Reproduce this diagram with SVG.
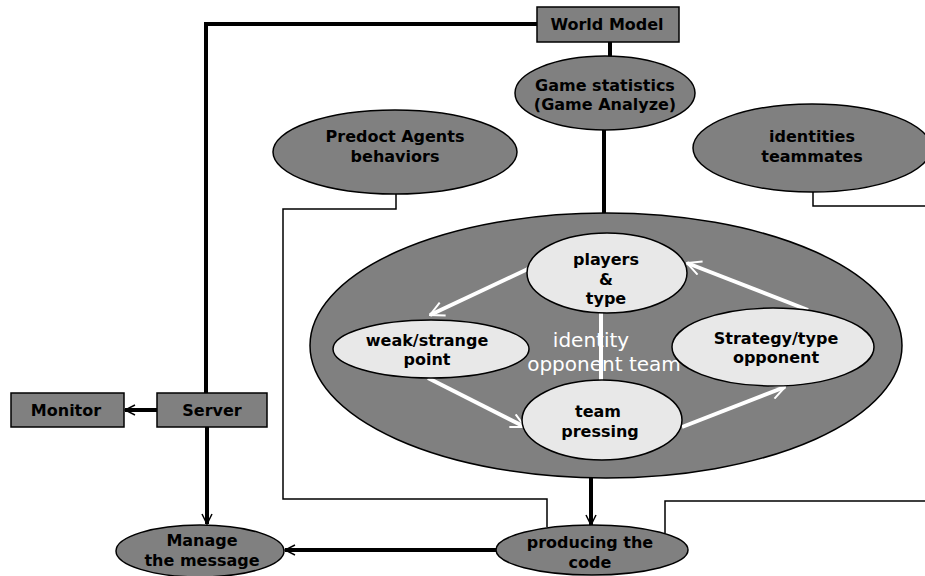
<svg xmlns="http://www.w3.org/2000/svg" width="925" height="576" viewBox="0 0 925 576">
<defs>
<style>
.dark{fill:#808080;stroke:#000;stroke-width:1.5}
.light{fill:#e8e8e8;stroke:#000;stroke-width:1.5}
.lbl{font-family:"DejaVu Sans",Verdana,sans-serif;font-weight:bold;font-size:16px;fill:#000;text-anchor:middle}
.wlbl{font-family:"DejaVu Sans",Verdana,sans-serif;font-size:20px;fill:#fff;text-anchor:middle}
.thick{fill:none;stroke:#000;stroke-width:4}
.thin{fill:none;stroke:#000;stroke-width:1.5}
.white{fill:none;stroke:#fff;stroke-width:4}
</style>
<marker id="ab" markerUnits="userSpaceOnUse" markerWidth="12" markerHeight="12" refX="11" refY="6" orient="auto" viewBox="0 0 12 12">
<path d="M1,1 L11,6 L1,11" fill="none" stroke="#000" stroke-width="1.5"/>
</marker>
<marker id="aw" markerUnits="userSpaceOnUse" markerWidth="16" markerHeight="16" refX="15" refY="8" orient="auto" viewBox="0 0 16 16">
<path d="M1,1 L15,8 L1,15" fill="none" stroke="#fff" stroke-width="2"/>
</marker>
</defs>
<rect width="925" height="576" fill="#fff"/>

<g id="identity-opponent-team">
<ellipse class="dark" cx="606" cy="345.5" rx="296" ry="132.5"/>
<text class="wlbl" x="591" y="347">identity</text>
<text class="wlbl" x="604" y="371">opponent team</text>
</g>

<g id="connectors">
<polyline class="thick" points="537,24 206,24 206,393"/>
<line class="thick" x1="610" y1="42" x2="610" y2="57"/>
<line class="thick" x1="604" y1="130" x2="604" y2="213"/>
<polyline class="thin" points="396,194 396,209 283,209 283,499 547,499 547,527"/>
<polyline class="thin" points="925,501 665,501 665,533"/>
<polyline class="thin" points="813,192 813,206 925,206"/>
<line class="thick" x1="157" y1="410" x2="125" y2="410" marker-end="url(#ab)"/>
<line class="thick" x1="207" y1="427" x2="207" y2="524" marker-end="url(#ab)"/>
<line class="thick" x1="591" y1="478" x2="591" y2="525" marker-end="url(#ab)"/>
<line class="thick" x1="496" y1="550" x2="285" y2="550" marker-end="url(#ab)"/>
<line class="white" x1="530" y1="268" x2="430" y2="315" marker-end="url(#aw)"/>
<line class="white" x1="428" y1="378" x2="525" y2="427" marker-end="url(#aw)"/>
<line class="white" x1="682" y1="427" x2="785" y2="387" marker-end="url(#aw)"/>
<line class="white" x1="808" y1="310" x2="687" y2="263" marker-end="url(#aw)"/>
<line class="white" x1="601" y1="312" x2="601" y2="381"/>
</g>

<g id="world-model">
<rect class="dark" x="537" y="7" width="142" height="35"/>
<text class="lbl" x="607" y="30">World Model</text>
</g>

<g id="game-statistics">
<ellipse class="dark" cx="605" cy="93" rx="90" ry="37"/>
<text class="lbl" x="605" y="91">Game statistics</text>
<text class="lbl" x="605" y="110">(Game Analyze)</text>
</g>

<g id="predoct-agents">
<ellipse class="dark" cx="395" cy="152" rx="122" ry="42"/>
<text class="lbl" x="395" y="142">Predoct Agents</text>
<text class="lbl" x="395" y="162">behaviors</text>
</g>

<g id="identities-teammates">
<ellipse class="dark" cx="812" cy="148" rx="119" ry="44"/>
<text class="lbl" x="812" y="142">identities</text>
<text class="lbl" x="812" y="162">teammates</text>
</g>

<g id="players-type">
<ellipse class="light" cx="607" cy="273" rx="80" ry="40"/>
<text class="lbl" x="606" y="265">players</text>
<text class="lbl" x="606" y="285">&amp;</text>
<text class="lbl" x="606" y="304">type</text>
</g>

<g id="weak-strange-point">
<ellipse class="light" cx="431" cy="349" rx="98" ry="29"/>
<text class="lbl" x="427" y="346">weak/strange</text>
<text class="lbl" x="427" y="365">point</text>
</g>

<g id="team-pressing">
<ellipse class="light" cx="602" cy="420" rx="80" ry="40"/>
<text class="lbl" x="598" y="417">team</text>
<text class="lbl" x="600" y="437">pressing</text>
</g>

<g id="strategy-type-opponent">
<ellipse class="light" cx="773" cy="347" rx="101" ry="39"/>
<text class="lbl" x="776" y="344">Strategy/type</text>
<text class="lbl" x="776" y="363">opponent</text>
</g>

<g id="monitor">
<rect class="dark" x="11" y="393" width="113" height="34"/>
<text class="lbl" x="66" y="416">Monitor</text>
</g>

<g id="server">
<rect class="dark" x="157" y="393" width="110" height="34"/>
<text class="lbl" x="212" y="416">Server</text>
</g>

<g id="manage-message">
<ellipse class="dark" cx="200" cy="551" rx="84" ry="26"/>
<text class="lbl" x="202" y="546">Manage</text>
<text class="lbl" x="202" y="566">the message</text>
</g>

<g id="producing-code">
<ellipse class="dark" cx="592" cy="550" rx="96" ry="25"/>
<text class="lbl" x="590" y="548">producing the</text>
<text class="lbl" x="590" y="568">code</text>
</g>
</svg>
